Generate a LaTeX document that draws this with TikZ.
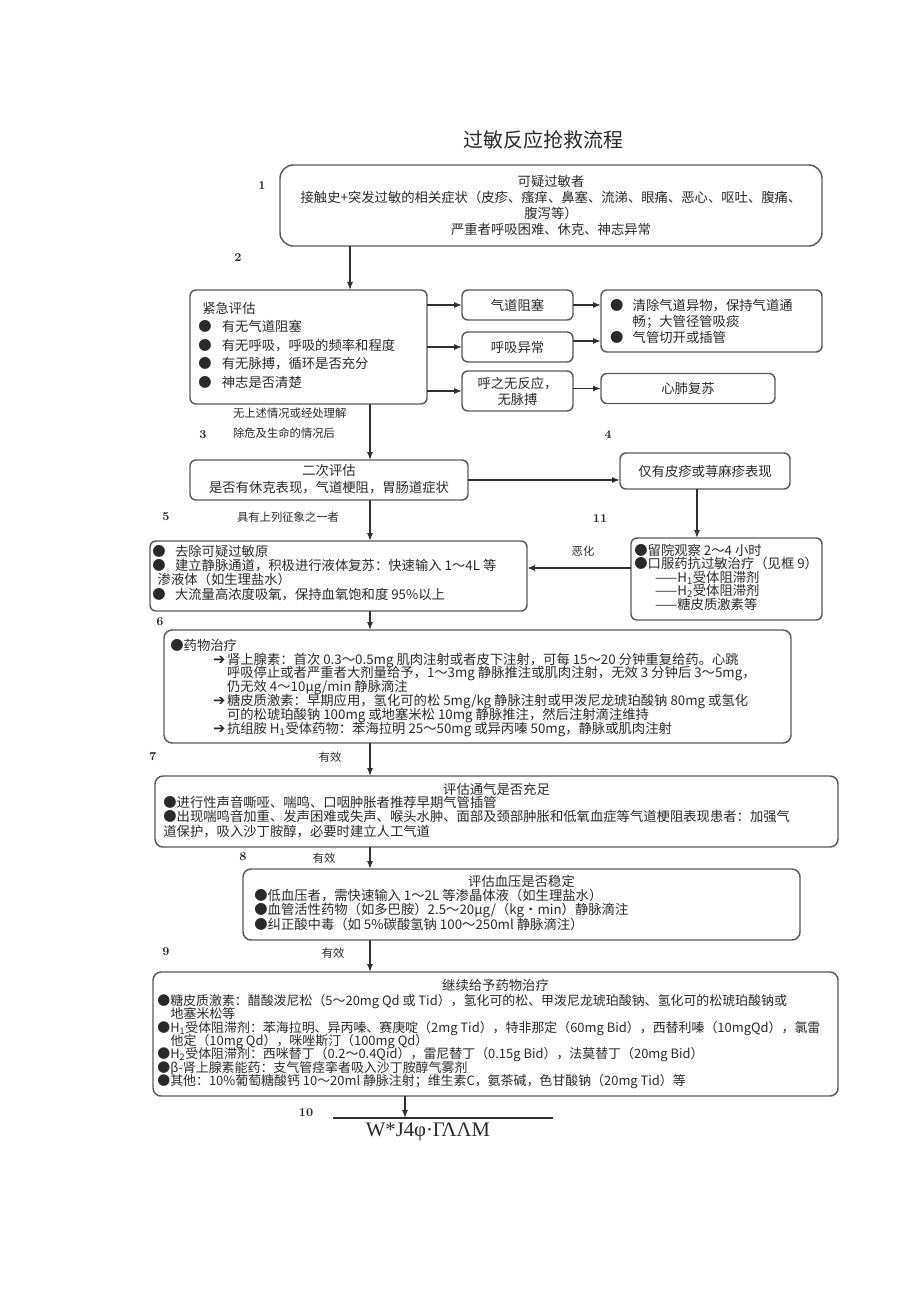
\documentclass[tikz,border=0pt]{standalone}
\usepackage{fontspec}
\usetikzlibrary{arrows.meta}
\newfontfamily\cjk{Noto Sans CJK SC}
\newfontfamily\sym{DejaVu Sans}
\newfontfamily\garble{Liberation Serif}
\definecolor{boxgray}{HTML}{5A5A5A}
\definecolor{linegray}{HTML}{303030}
\definecolor{inkgray}{HTML}{2A2A2A}
\newcommand\cjksize[2]{\cjk\fontsize{#1}{#2}\selectfont\lineskiplimit=-20pt\lineskip=0pt}
\newcommand\dotitem[1][7pt]{●\hspace*{#1}}
\newcommand\arw{\makebox[10.5pt][l]{\sym\fontsize{11}{11}\selectfont ➔}}
\tikzset{
  box/.style={draw=boxgray, line width=1.1pt, rounded corners=4.5pt, outer sep=0pt, inner sep=0pt},
  bigbox/.style={box, rounded corners=6pt},
  txt/.style={inner sep=0pt, outer sep=0pt, text=inkgray, font=\cjksize{10}{10.5}},
  lefttxt/.style={txt, align=left, anchor=north west},
  note/.style={inner sep=0pt, outer sep=0pt, text=inkgray, font=\cjksize{8.5}{15}},
  stepno/.style={inner sep=0pt, text=inkgray, font=\bfseries\fontsize{9}{9}\selectfont},
  link/.style={draw=linegray, line width=0.9pt},
  arr/.style={link, -{Latex[length=6pt,width=4.5pt]}},
}
\begin{document}
\begin{tikzpicture}[x=0.75pt, y=-0.75pt]
\path[use as bounding box, fill=white] (0,0) rectangle (920,1301);
%%% Start title
        \draw (543,140) node[inner sep=0, text=inkgray, font=\cjksize{15}{15}] (title) {过敏反应抢救流程};
%%% End title
%%% Start suspect / emergency assessment
        \draw (551,205.5) node[box, rounded corners=10pt, minimum width=406.5pt, minimum height=60.75pt] (suspect) {};
        \draw (suspect.center) node[txt, align=center, font=\cjksize{10}{12}] {可疑过敏者\\接触史+突发过敏的相关症状（皮疹、瘙痒、鼻塞、流涕、眼痛、恶心、呕吐、腹痛、\\腹泻等）\\严重者呼吸困难、休克、神志异常};
        \draw (308.5,347) node[box, minimum width=177.75pt, minimum height=85.5pt] (assess) {};
        \draw (assess.north west) node[lefttxt, xshift=6.2pt, yshift=-9pt, font=\cjksize{10}{13.9}] {\hspace*{3pt}紧急评估\\\dotitem[7.7pt]有无气道阻塞\\\dotitem[7.7pt]有无呼吸，呼吸的频率和程度\\\dotitem[7.7pt]有无脉搏，循环是否充分\\\dotitem[7.7pt]神志是否清楚};
        \draw (517.5,305) node[box, minimum width=83.25pt, minimum height=22.5pt] (airway) {};
        \draw (airway.center) node[txt] {气道阻塞};
        \draw (517.5,347) node[box, minimum width=83.25pt, minimum height=22.5pt] (breath) {};
        \draw (breath.center) node[txt] {呼吸异常};
        \draw (517.5,391) node[box, minimum width=83.25pt, minimum height=30pt] (nopulse) {};
        \draw (nopulse.center) node[txt, align=center, font=\cjksize{10}{12}] {呼之无反应，\\无脉搏};
        \draw (711.5,321) node[box, minimum width=165.75pt, minimum height=46.5pt] (clearway) {};
        \draw (clearway.north west) node[lefttxt, xshift=6.75pt, yshift=-6.75pt, font=\cjksize{10}{12}] {\dotitem 清除气道异物，保持气道通\\\hspace*{17pt}畅；大管径管吸痰\\\dotitem 气管切开或插管};
        \draw (688,388.5) node[box, minimum width=130.5pt, minimum height=22.5pt] (cpr) {};
        \draw (cpr.center) node[txt] {心肺复苏};
%%% End suspect / emergency assessment
%%% Start second assessment
        \draw (233,423) node[note, anchor=west, align=left] (cleared) {无上述情况或经处理解\\除危及生命的情况后};
        \draw (329,480) node[box, minimum width=208.5pt, minimum height=30pt] (second) {};
        \draw (second.center) node[txt, align=center, yshift=1pt, font=\cjksize{10}{12.75}] {二次评估\\是否有休克表现，气道梗阻，胃肠道症状};
        \draw (705,471) node[box, minimum width=127.5pt, minimum height=27pt] (rashonly) {};
        \draw (rashonly.center) node[txt] {仅有皮疹或荨麻疹表现};
        \draw (288,517) node[note] (anysign) {具有上列征象之一者};
        \draw (338.5,576) node[box, minimum width=282.75pt, minimum height=52.5pt] (basic) {};
        \draw (basic.north west) node[lefttxt, xshift=1.75pt, yshift=-3pt, font=\cjksize{10}{10.75}] {\dotitem 去除可疑过敏原\\\dotitem 建立静脉通道，积极进行液体复苏：快速输入 1～4L 等\\\hspace*{4pt}渗液体（如生理盐水）\\\dotitem 大流量高浓度吸氧，保持血氧饱和度 95\%以上};
        \draw (726.5,579) node[box, minimum width=143.25pt, minimum height=61.5pt] (observe) {};
        \draw (observe.north west) node[lefttxt, xshift=2.5pt, yshift=-4.5pt, font=\cjksize{10}{10.1}] {●留院观察 2～4 小时\\●口服药抗过敏治疗（见框 9）\\\hspace*{15.5pt}——H\textsubscript{1}受体阻滞剂\\\hspace*{15.5pt}——H\textsubscript{2}受体阻滞剂\\\hspace*{15.5pt}——糖皮质激素等};
        \draw (583,551) node[note] (worsen) {恶化};
%%% End second assessment
%%% Start drug therapy / evaluation chain
        \draw (477.5,686.5) node[bigbox, minimum width=470.25pt, minimum height=84.75pt] (drugs) {};
        \draw (drugs.north west) node[lefttxt, xshift=4.75pt, yshift=-6.75pt, font=\cjksize{10}{10.4}] {●药物治疗\\
\hspace*{32pt}\arw 肾上腺素：首次 0.3～0.5mg 肌肉注射或者皮下注射，可每 15～20 分钟重复给药。心跳\\
\hspace*{42.5pt}呼吸停止或者严重者大剂量给予，1～3mg 静脉推注或肌肉注射，无效 3 分钟后 3～5mg，\\
\hspace*{42.5pt}仍无效 4～10μg/min 静脉滴注\\
\hspace*{32pt}\arw 糖皮质激素：早期应用，氢化可的松 5mg/kg 静脉注射或甲泼尼龙琥珀酸钠 80mg 或氢化\\
\hspace*{42.5pt}可的松琥珀酸钠 100mg 或地塞米松 10mg 静脉推注，然后注射滴注维持\\
\hspace*{32pt}\arw 抗组胺 H\textsubscript{1}受体药物：苯海拉明 25～50mg 或异丙嗪 50mg，静脉或肌肉注射};
        \draw (330,757) node[note] (ok1) {有效};
        \draw (496.5,811.5) node[bigbox, minimum width=512.25pt, minimum height=53.25pt] (ventil) {};
        \draw (ventil.north) node[txt, anchor=north, yshift=-5.25pt] {评估通气是否充足};
        \draw (ventil.north west) node[lefttxt, xshift=6.25pt, yshift=-15pt, font=\cjksize{10}{10.9}] {●进行性声音嘶哑、喘鸣、口咽肿胀者推荐早期气管插管\\●出现喘鸣音加重、发声困难或失声、喉头水肿、面部及颈部肿胀和低氧血症等气道梗阻表现患者：加强气\\道保护，吸入沙丁胺醇，必要时建立人工气道};
        \draw (324,858) node[note] (ok2) {有效};
        \draw (521.5,904.5) node[bigbox, minimum width=417.75pt, minimum height=53.25pt] (bp) {};
        \draw (bp.north) node[txt, anchor=north, yshift=-4.5pt] {评估血压是否稳定};
        \draw (bp.north west) node[lefttxt, xshift=8.5pt, yshift=-15pt, font=\cjksize{10}{10.9}] {●低血压者，需快速输入 1～2L 等渗晶体液（如生理盐水）\\●血管活性药物（如多巴胺）2.5～20μg/（kg·min）静脉滴注\\●纠正酸中毒（如 5\%碳酸氢钠 100～250ml 静脉滴注）};
        \draw (333,953) node[note] (ok3) {有效};
        \draw (495.5,1034) node[bigbox, minimum width=513.75pt, minimum height=93pt] (maint) {};
        \draw (maint.north) node[txt, anchor=north, yshift=-5.25pt] {继续给予药物治疗};
        \draw (maint.north west) node[lefttxt, xshift=3.25pt, yshift=-16.5pt, font=\cjksize{9.7}{10.1}] {●糖皮质激素：醋酸泼尼松（5～20mg Qd 或 Tid），氢化可的松、甲泼尼龙琥珀酸钠、氢化可的松琥珀酸钠或\\
\hspace*{10pt}地塞米松等\\
●H\textsubscript{1}受体阻滞剂：苯海拉明、异丙嗪、赛庚啶（2mg Tid），特非那定（60mg Bid），西替利嗪（10mgQd），氯雷\\
\hspace*{10pt}他定（10mg Qd），咪唑斯汀（100mg Qd）\\
●H\textsubscript{2}受体阻滞剂：西咪替丁（0.2～0.4Qid），雷尼替丁（0.15g Bid），法莫替丁（20mg Bid）\\
●β-肾上腺素能药：支气管痉挛者吸入沙丁胺醇气雾剂\\
●其他：10\%葡萄糖酸钙 10～20ml 静脉注射；维生素C，氨茶碱，色甘酸钠（20mg Tid）等};
        \draw (428,1132) node[inner sep=0, text=inkgray, font=\garble\fontsize{15.5}{15.5}\selectfont] (garbled) {W*J4φ·ΓΛΛΜ};
%%% End drug therapy / evaluation chain
%%% Start step numbers
        \draw (262,186) node[stepno] (n1) {1};
        \draw (238,258) node[stepno] (n2) {2};
        \draw (203,435) node[stepno] (n3) {3};
        \draw (608,435) node[stepno] (n4) {4};
        \draw (166,517) node[stepno] (n5) {5};
        \draw (600,519) node[stepno] (n11) {11};
        \draw (160,622) node[stepno] (n6) {6};
        \draw (153,757) node[stepno] (n7) {7};
        \draw (243,857) node[stepno] (n8) {8};
        \draw (166,952) node[stepno] (n9) {9};
        \draw (306,1113) node[stepno] (n10) {10};
%%% End step numbers
%%% Start connectors
        \coordinate (top) at (350,0);
        \coordinate (trunk) at (370,0);
        \coordinate (tail) at (405,0);
        \coordinate (side) at (697,0);
        \coordinate (worse) at (0,568);
        \coordinate (endL) at (333,1118);
        \coordinate (endR) at (553,1118);
        \draw[arr] (suspect.south -| top) -- (assess.north -| top);
        \draw[arr] (assess.east |- airway.west) -- (airway.west);
        \draw[arr] (assess.east |- breath.west) -- (breath.west);
        \draw[arr] (assess.east |- nopulse.west) -- (nopulse.west);
        \draw[arr] (airway.east) -- (airway.east -| clearway.west);
        \draw[arr] ([yshift=4.5pt]breath.east) -- ([yshift=4.5pt]breath.east -| clearway.west);
        \draw[arr] (nopulse.east |- cpr.west) -- (cpr.west);
        \draw[arr] (assess.south -| trunk) -- (second.north -| trunk);
        \draw[arr] (second.east) -- (second.east -| rashonly.west);
        \draw[arr] (rashonly.south -| side) -- (observe.north -| side);
        \draw[arr] (observe.west |- worse) -- (basic.east |- worse);
        \draw[arr] (second.south -| trunk) -- (basic.north -| trunk);
        \draw[arr] (basic.south -| trunk) -- (drugs.north -| trunk);
        \draw[arr] (drugs.south -| trunk) -- (ventil.north -| trunk);
        \draw[arr] (ventil.south -| trunk) -- (bp.north -| trunk);
        \draw[arr] (bp.south -| trunk) -- (maint.north -| trunk);
        \draw[arr] (maint.south -| tail) -- (endL -| tail);
        \draw[link] (endL) -- (endR);
%%% End connectors
\end{tikzpicture}
\end{document}
